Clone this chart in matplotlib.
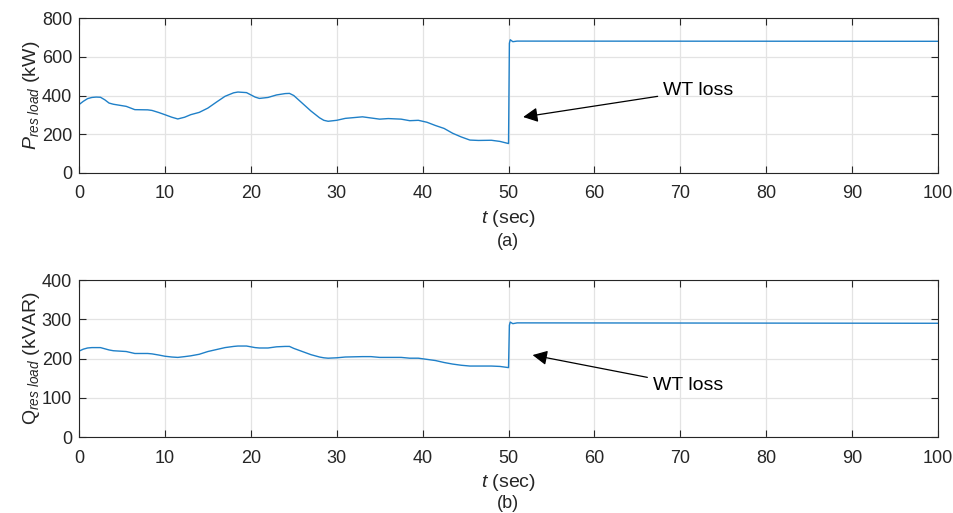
import numpy as np
import matplotlib
matplotlib.use('Agg')
from matplotlib import pyplot as plt

plt.rcParams['font.family'] = 'Liberation Sans'
plt.rcParams['mathtext.fontset'] = 'custom'
plt.rcParams['mathtext.rm'] = 'Liberation Sans'
plt.rcParams['mathtext.it'] = 'Liberation Sans:italic'

# time samples (sec)
t = [0, 0.5, 1, 1.5, 2, 2.5, 3, 3.5, 4, 5.5, 6.5, 8, 8.5, 9.3, 10, 10.8, 11.5,
     12.3, 13, 14, 15, 16, 17, 18, 18.5, 19.5, 20.5, 21, 22, 23, 24, 24.5, 25,
     26, 27, 28, 28.5, 29, 30, 31, 33, 34, 35, 36, 37.5, 38.5, 39.5, 40.5, 41.5,
     42.5, 43.5, 44.5, 45.5, 46.5, 48, 49, 50, 50.1, 50.2, 50.5, 51, 100]

# residual active load (kW)
p_load = [353, 370, 384, 390, 392, 391, 378, 361, 355, 344, 327, 326, 323, 312,
          301, 288, 279, 288, 301, 313, 335, 366, 396, 414, 418, 415, 392, 385,
          390, 403, 410, 411, 400, 360, 320, 285, 272, 267, 272, 282, 290, 284,
          278, 281, 278, 270, 272, 262, 245, 230, 205, 186, 170, 168, 169, 163,
          152, 670, 688, 678, 681, 680]

# residual reactive load (kVAR)
q_load = [219, 224, 227, 228, 228, 228, 225, 222, 220, 218, 213, 213, 212, 209,
          206, 204, 203, 205, 207, 211, 218, 223, 228, 231, 232, 232, 228, 227,
          227, 230, 231, 231, 226, 218, 210, 204, 202, 201, 202, 204, 205, 205,
          203, 203, 203, 201, 201, 198, 195, 190, 186, 183, 181, 181, 181, 180,
          177, 285, 293, 289, 291, 290]

line_color = '#1f80c8'
dark = '#262626'

fig = plt.figure(figsize=(9.54, 5.13), dpi=100)
ax1 = fig.add_axes([0.0828, 0.6628, 0.9005, 0.302])
ax2 = fig.add_axes([0.0828, 0.148, 0.9005, 0.306])

for ax in (ax1, ax2):
    ax.set_xlim(0, 100)
    ax.set_xticks(np.arange(0, 101, 10))
    ax.grid(True, color='#e3e3e3', linewidth=0.9)
    ax.set_axisbelow(True)
    ax.tick_params(direction='in', top=True, right=True, length=5,
                   labelsize=13, colors=dark, width=0.8)
    ax.tick_params(axis='x', pad=9)
    ax.tick_params(axis='y', pad=5)
    for s in ax.spines.values():
        s.set_color(dark)
        s.set_linewidth(0.8)

ax1.plot(t, p_load, color=line_color, lw=1)
ax1.set_ylim(0, 800)
ax1.set_yticks([0, 200, 400, 600, 800])
ax1.set_ylabel(r'$P_{res\ load}$ (kW)', fontsize=14, color=dark, labelpad=0)
ax1.set_xlabel(r'$t$ (sec)', fontsize=14, color=dark, labelpad=4)
ax1.annotate('WT loss', xy=(51.7, 289), xytext=(68.0, 428), fontsize=14,
             va='center', ha='left',
             arrowprops=dict(arrowstyle='-|>', color='k', lw=0.9,
                             mutation_scale=22, shrinkA=2, shrinkB=0))

ax2.plot(t, q_load, color=line_color, lw=1)
ax2.set_ylim(0, 400)
ax2.set_yticks([0, 100, 200, 300, 400])
ax2.set_ylabel(r'$\mathrm{Q}_{res\ load}$ (kVAR)', fontsize=14, color=dark, labelpad=0)
ax2.set_xlabel(r'$t$ (sec)', fontsize=14, color=dark, labelpad=4)
ax2.annotate('WT loss', xy=(52.8, 209), xytext=(66.8, 132), fontsize=14,
             va='center', ha='left',
             arrowprops=dict(arrowstyle='-|>', color='k', lw=0.9,
                             mutation_scale=22, shrinkA=2, shrinkB=0))

fig.text(0.5325, 1 - 241 / 513, '(a)', fontsize=13, ha='center', va='center', color=dark)
fig.text(0.5325, 1 - 503 / 513, '(b)', fontsize=13, ha='center', va='center', color=dark)

fig.savefig('out.png', dpi=100)
